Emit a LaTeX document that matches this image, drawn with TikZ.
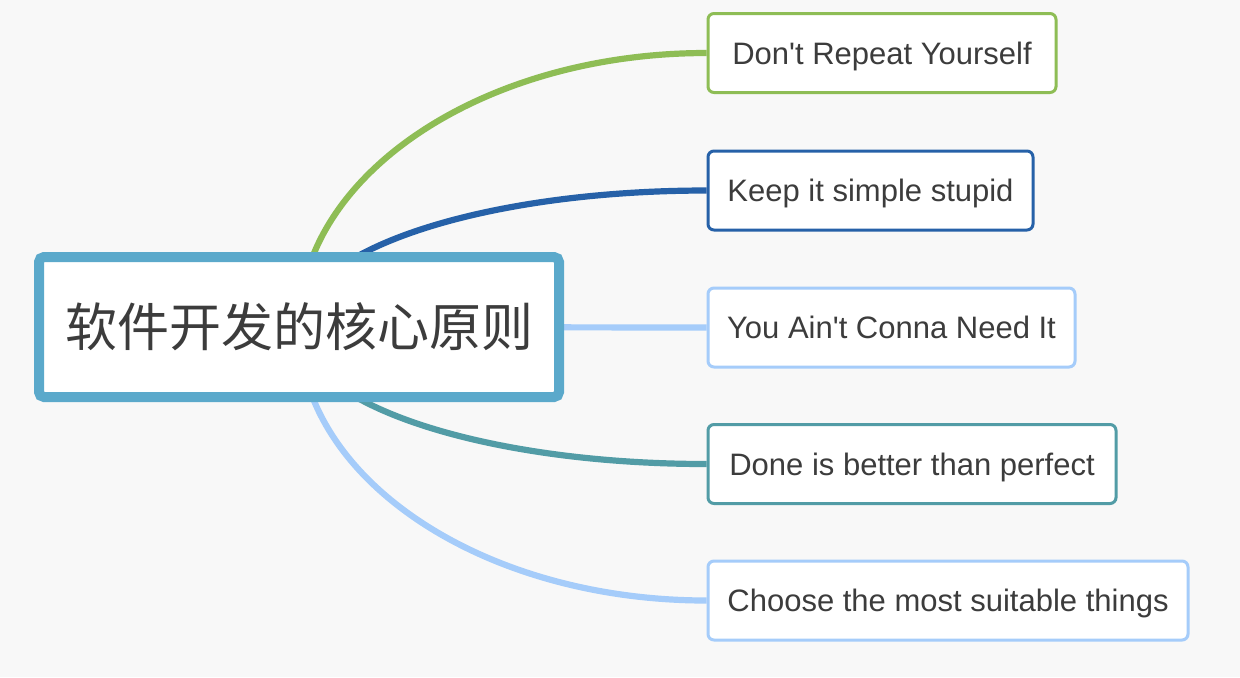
\documentclass[tikz,border=0pt]{standalone}
\usepackage{fontspec}
\newfontfamily\subfont{Liberation Sans}
\newfontfamily\cjk{Noto Sans CJK SC}
\usetikzlibrary{backgrounds}

\definecolor{canvas}{HTML}{F8F8F8}
\definecolor{textgray}{HTML}{3C3C3C}
\definecolor{rootblue}{HTML}{5BA9CB}
\definecolor{drygreen}{HTML}{8EBD55}
\definecolor{kissblue}{HTML}{2661A8}
\definecolor{skyblue}{HTML}{A5CCFA}
\definecolor{doneteal}{HTML}{529CA6}

\begin{document}
\begin{tikzpicture}[x=0.5pt, y=-0.5pt]
\tikzstyle{every node}=[text=textgray]
\tikzstyle{topic}=[draw=rootblue, line width=5pt, fill=white, rounded corners=2.5pt, minimum width=260pt, minimum height=70pt, font=\cjk\fontsize{26pt}{30pt}\selectfont]
\tikzstyle{subtopic}=[draw, line width=1.5pt, fill=white, rounded corners=3pt, minimum height=39.5pt, inner sep=0pt, text height=11pt, text depth=0pt, anchor=west, font=\subfont\fontsize{15.5pt}{18pt}\selectfont]
\tikzstyle{branch}=[line width=3.1pt]

\node[topic] at (299,327) (core) {软件开发的核心原则};

\node[subtopic, draw=drygreen, minimum width=174pt] at (706.5,53) (dry) {Don't Repeat Yourself};
\node[subtopic, draw=kissblue, minimum width=162.5pt] at (706.5,190.5) (kiss) {Keep it simple stupid};
\node[subtopic, draw=skyblue, minimum width=183.5pt] at (706.5,327.5) (yagni) {You Ain't Conna Need It};
\node[subtopic, draw=doneteal, minimum width=204pt] at (706.5,464) (done) {Done is better than perfect};
\node[subtopic, draw=skyblue, minimum width=240pt] at (706.5,600.5) (choose) {Choose the most suitable things};

\begin{scope}[on background layer]
\fill[canvas] (0,0) rectangle (1240,677);
\draw[branch, drygreen] (core.center) .. controls +(0,-151) and +(-225,0) .. (dry.west);
\draw[branch, kissblue] (core.center) .. controls +(0,-76) and +(-225,0) .. (kiss.west);
\draw[branch, skyblue] (core.center) -- (yagni.west);
\draw[branch, doneteal] (core.center) .. controls +(0,76) and +(-225,0) .. (done.west);
\draw[branch, skyblue] (core.center) .. controls +(0,151) and +(-225,0) .. (choose.west);
\end{scope}
\end{tikzpicture}
\end{document}
